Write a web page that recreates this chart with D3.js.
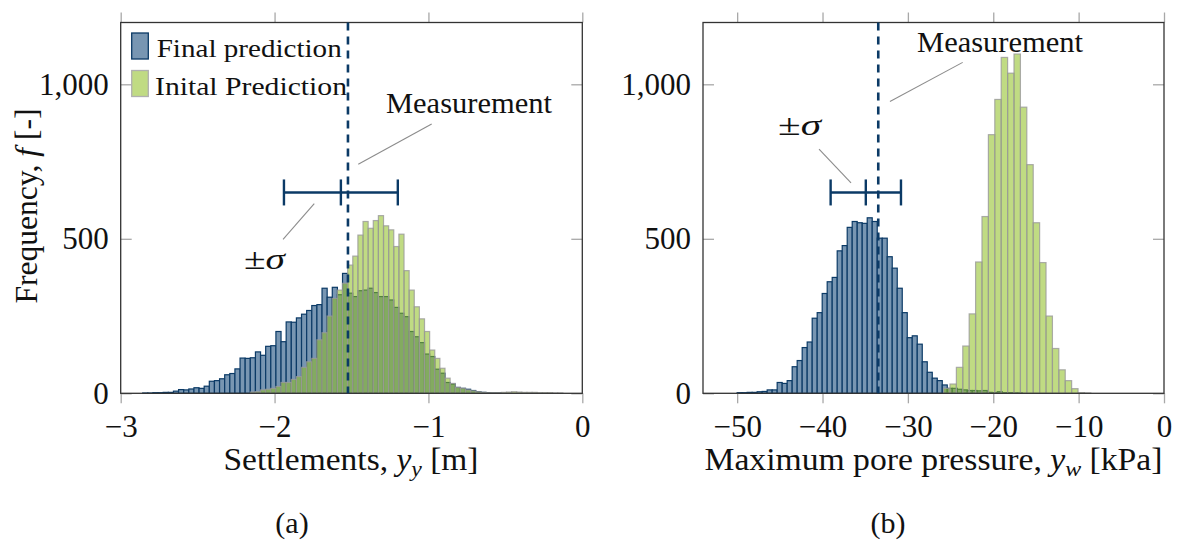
<!DOCTYPE html>
<html>
<head>
<meta charset="utf-8">
<title>Histograms</title>
<script src="https://cdn.jsdelivr.net/npm/d3@7/dist/d3.min.js"></script>
<style>
  body { margin: 0; background: #fff; }
  svg text { font-family: "Liberation Serif", "DejaVu Serif", serif; fill: #111; }
  .tick line { stroke: #a8a8a8; stroke-width: 1.3; }
  .tick text { font-size: 31px; }
</style>
</head>
<body>
<script>
// ---- data ----
// (a) settlements, both histograms share one bin grid
var settleBinStart = -2.857;
var settleBinWidth = 0.0333;
var settleFinal = [1,1,2,2,3,3,7,12,11,14,18,16,23,39,41,47,60,64,79,114,
  113,115,134,123,152,154,200,167,231,230,244,256,268,284,287,340,311,343,319,388,
  324,313,332,334,340,326,313,313,302,278,259,248,200,183,164,127,119,78,65,35,
  30,19,16,13,9,5,3,2,1,1];
var settleInitial = [0,0,0,0,0,0,0,0,0,0,0,0,0,0,0,0,0,0,0,0,
  0,4,5,11,13,16,22,35,35,45,54,84,102,113,173,196,250,307,334,356,
  415,444,512,556,534,559,575,542,529,475,515,397,334,280,241,200,140,113,81,49,
  32,19,16,11,8,5,3,2,2,2,3,4,5,4,3,3,3,2,2,2,1,1];
var settleMeasured = -1.523;
var settleMean = -1.569, settleSigma = 0.37;

// (b) maximum pore pressure
var poreFinalStart = -50, poreFinalWidth = 0.586;
var poreFinal = [2,2,3,3,5,6,11,11,35,32,41,86,106,148,166,243,261,323,361,375,
  461,478,537,556,552,550,568,556,502,502,442,405,340,261,180,186,159,102,68,49,
  41,27,16,16,13,11,9,9,8,9,3,2,5,2,2,1,1];
var poreInitStart = -25.82, poreInitWidth = 0.75;
var poreInitial = [16,30,84,153,257,425,572,837,951,1087,1036,1098,926,740,552,423,250,145,76,41,15,2,1];
var poreMeasured = -33.47;
var poreMean = -34.93, poreSigma = 4.12;

var yTicks = [0, 500, 1000];
var settleTicks = [-3, -2, -1, 0];
var poreTicks = [-50, -40, -30, -20, -10, 0];
var legendLabels = ["Final prediction", "Inital Prediction"];

// ---- layout ----
var W = 1178, H = 543;
var plotTop = 22.5, plotBottom = 393.3;
var navy = "#0b3a66";
var blueFill = "#7896b2";
var greenFill = "rgb(140,190,30)";

var svg = d3.select("body").append("svg").attr("width", W).attr("height", H);

var y = d3.scaleLinear().domain([0, 1200]).range([plotBottom, plotTop]);

function panel(xScale, ticks, series) {
  var g = svg.append("g");
  var x0 = xScale.range()[0], x1 = xScale.range()[1];

  series.forEach(function (s) {
    var idx = d3.range(s.counts.length).filter(function (i) { return s.counts[i] > 0; });
    g.append("g").selectAll("rect").data(idx).join("rect")
      .attr("x", function (i) { return xScale(s.start + i * s.width); })
      .attr("width", function (i) { return xScale(s.start + (i + 1) * s.width) - xScale(s.start + i * s.width); })
      .attr("y", function (i) { return y(s.counts[i]); })
      .attr("height", function (i) { return y(0) - y(s.counts[i]); })
      .attr("fill", s.fill)
      .attr("fill-opacity", s.opacity)
      .attr("stroke", s.stroke)
      .attr("stroke-opacity", s.strokeOpacity)
      .attr("stroke-width", 1.2);
  });

  // axes: x ticks outward, y ticks inward
  var ax = g.append("g").attr("transform", "translate(0," + plotBottom + ")")
    .call(d3.axisBottom(xScale).tickValues(ticks).tickSize(10).tickPadding(11.5).tickFormat(d3.format("~g")));
  var axt = g.append("g").attr("transform", "translate(0," + plotTop + ")")
    .call(d3.axisTop(xScale).tickValues(ticks).tickSize(10).tickFormat(""));
  var ay = g.append("g").attr("transform", "translate(" + x0 + ",0)")
    .call(d3.axisLeft(y).tickValues(yTicks).tickSize(-11).tickPadding(12).tickFormat(d3.format(",")));
  var ayr = g.append("g").attr("transform", "translate(" + x1 + ",0)")
    .call(d3.axisRight(y).tickValues(yTicks).tickSize(-11).tickFormat(""));
  [ax, axt, ay, ayr].forEach(function (a) {
    a.select(".domain").remove();
    a.attr("font-family", null).attr("font-size", null);
    a.selectAll("text").attr("fill", "#111");
  });

  g.append("rect")
    .attr("x", x0).attr("y", plotTop)
    .attr("width", x1 - x0).attr("height", plotBottom - plotTop)
    .attr("fill", "none").attr("stroke", "#333").attr("stroke-width", 1.3);
  return g;
}

function measurement(g, xScale, v) {
  g.append("line")
    .attr("x1", xScale(v)).attr("x2", xScale(v))
    .attr("y1", y(1200)).attr("y2", y(0))
    .attr("stroke", navy).attr("stroke-width", 2.6)
    .attr("stroke-dasharray", "8 6");
}

function errorBar(g, xScale, mean, sigma, level) {
  var yy = y(level);
  g.append("line")
    .attr("x1", xScale(mean - sigma)).attr("x2", xScale(mean + sigma))
    .attr("y1", yy).attr("y2", yy)
    .attr("stroke", navy).attr("stroke-width", 2.4);
  [mean - sigma, mean, mean + sigma].forEach(function (v) {
    g.append("line")
      .attr("x1", xScale(v)).attr("x2", xScale(v))
      .attr("y1", yy - 13).attr("y2", yy + 13)
      .attr("stroke", navy).attr("stroke-width", 2.4);
  });
}

function note(g, xScale, txt, tx, ty, l1, l2, italicPart, len) {
  g.append("line")
    .attr("x1", xScale(l1[0])).attr("y1", y(l1[1]))
    .attr("x2", xScale(l2[0])).attr("y2", y(l2[1]))
    .attr("stroke", "#8c8c8c").attr("stroke-width", 1.1);
  var t = g.append("text").attr("x", xScale(tx)).attr("y", y(ty)).attr("font-size", 29);
  t.append("tspan").text(txt);
  if (italicPart) t.append("tspan").attr("font-style", "italic").text(italicPart);
  if (len) t.attr("textLength", len).attr("lengthAdjust", "spacingAndGlyphs");
}

// ---- (a) ----
var xA = d3.scaleLinear().domain([-3, 0]).range([120.7, 582.3]);
var gA = panel(xA, settleTicks, [
  {start: settleBinStart, width: settleBinWidth, counts: settleFinal, fill: blueFill, opacity: 1, stroke: navy, strokeOpacity: 1},
  {start: settleBinStart, width: settleBinWidth, counts: settleInitial, fill: greenFill, opacity: 0.55, stroke: "#9a9a9a", strokeOpacity: 0.8}
]);
measurement(gA, xA, settleMeasured);
errorBar(gA, xA, settleMean, settleSigma, 650);
note(gA, xA, "Measurement", -1.276, 907, [-1.456, 741], [-0.979, 871.5], null, 166);
note(gA, xA, "±", -2.199, 402, [-1.945, 498], [-1.742, 614], "σ", 41);

// legend
var leg = gA.append("g");
[{fill: blueFill, stroke: navy, op: 1}, {fill: greenFill, stroke: "#b0b0b0", op: 0.55}].forEach(function (d, i) {
  leg.append("rect")
    .attr("x", 131.7).attr("y", 33 + i * 37.5).attr("width", 16.6).attr("height", 26)
    .attr("fill", d.fill).attr("fill-opacity", d.op)
    .attr("stroke", d.stroke).attr("stroke-width", 1.3);
  leg.append("text")
    .attr("x", i === 0 ? 156.7 : 155).attr("y", 57 + i * 38)
    .attr("font-size", 25)
    .attr("textLength", i === 0 ? 185 : 192).attr("lengthAdjust", "spacingAndGlyphs")
    .text(legendLabels[i]);
});

// ---- (b) ----
var xB = d3.scaleLinear().domain([-54, 0]).range([703, 1164]);
var gB = panel(xB, poreTicks, [
  {start: poreFinalStart, width: poreFinalWidth, counts: poreFinal, fill: blueFill, opacity: 1, stroke: navy, strokeOpacity: 1},
  {start: poreInitStart, width: poreInitWidth, counts: poreInitial, fill: greenFill, opacity: 0.55, stroke: "#9a9a9a", strokeOpacity: 0.8}
]);
measurement(gB, xB, poreMeasured);
errorBar(gB, xB, poreMean, poreSigma, 650);
note(gB, xB, "Measurement", -28.93, 1104.5, [-32.1, 944], [-23.58, 1071], null, 166);
note(gB, xB, "±", -45.21, 836, [-40.41, 790.6], [-36.66, 680.6], "σ", 43);

// ---- axis titles & captions ----
var yl = svg.append("text")
  .attr("transform", "translate(37,206) rotate(-90)")
  .attr("text-anchor", "middle").attr("font-size", 31)
  .attr("textLength", 195).attr("lengthAdjust", "spacingAndGlyphs");
yl.append("tspan").text("Frequency, ");
yl.append("tspan").attr("font-style", "italic").text("f");
yl.append("tspan").text(" [-]");

function xTitle(cx, main, sub, unit, len) {
  var t = svg.append("text").attr("x", cx).attr("y", 470)
    .attr("text-anchor", "middle").attr("font-size", 31)
    .attr("textLength", len).attr("lengthAdjust", "spacingAndGlyphs");
  t.append("tspan").text(main);
  t.append("tspan").attr("font-style", "italic").text("y");
  t.append("tspan").attr("font-style", "italic").attr("font-size", 22).attr("dy", 6).text(sub);
  t.append("tspan").attr("dy", -6).text(" [" + unit + "]");
}
xTitle(351, "Settlements, ", "y", "m", 255);
xTitle(933.5, "Maximum pore pressure, ", "w", "kPa", 458);

svg.append("text").attr("x", 292).attr("y", 533).attr("text-anchor", "middle").attr("font-size", 30).text("(a)");
svg.append("text").attr("x", 888).attr("y", 533).attr("text-anchor", "middle").attr("font-size", 30).text("(b)");
</script>
</body>
</html>
